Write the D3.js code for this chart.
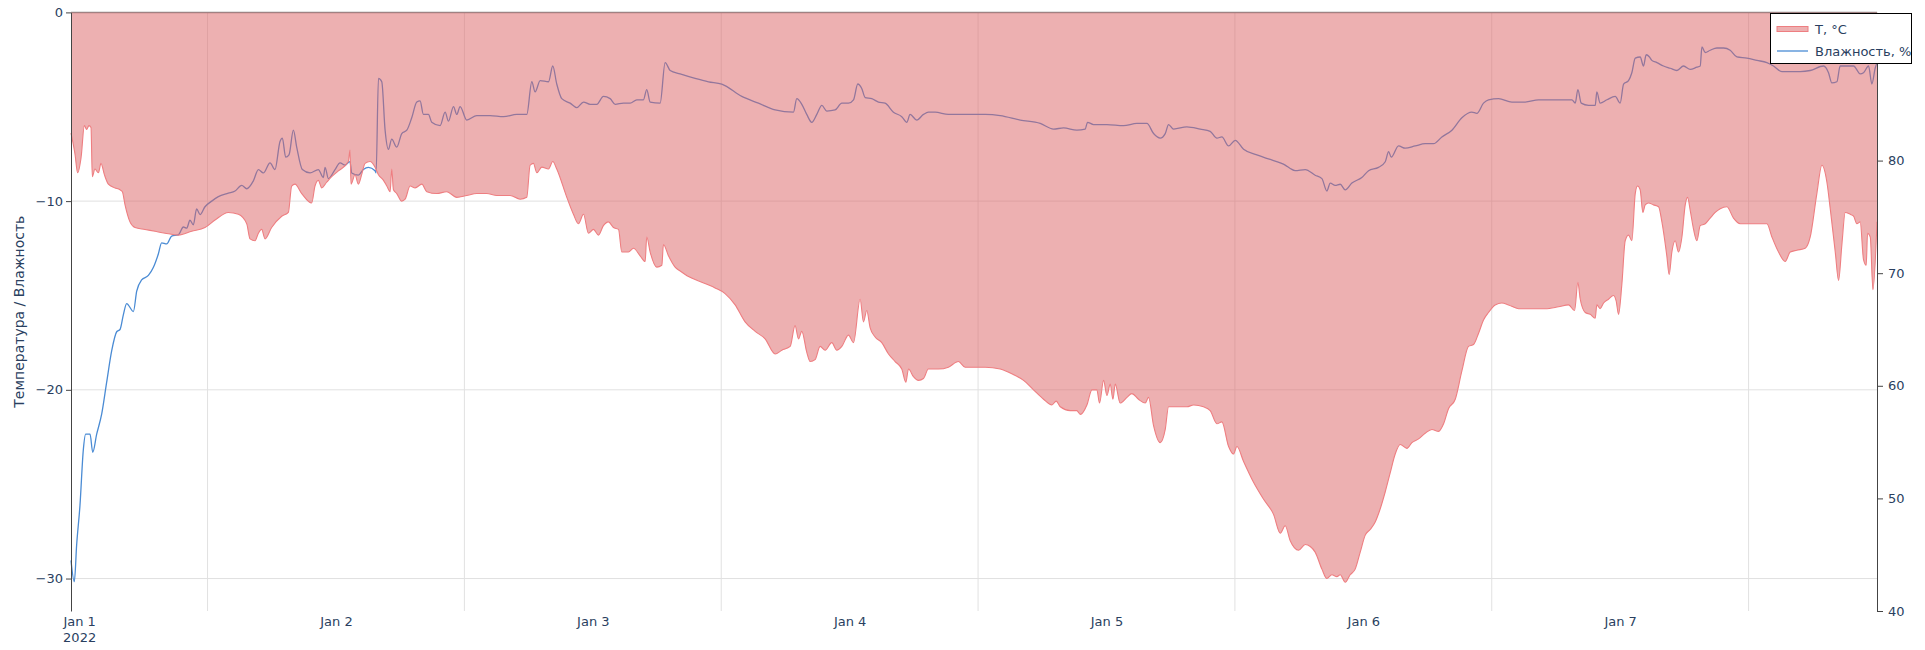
<!DOCTYPE html>
<html>
<head>
<meta charset="utf-8">
<script src="https://cdn.jsdelivr.net/npm/d3@7"></script>
<style>
  body { margin: 0; background: #fff; }
  svg text { font-family: "DejaVu Sans", Verdana, sans-serif; fill: #2a3f5f; }
</style>
</head>
<body>
<div id="chart"></div>
<script>
// hours since 2022-01-01 00:00 (UTC), value
const tempData = [
  [11.24,-6.4],[11.61,-7.5],[11.86,-8.5],[12.18,-7.7],[12.49,-6.0],[12.70,-6.2],[12.92,-6.0],[13.11,-6.1],[13.23,-8.7],[13.48,-8.3],
  [13.80,-8.5],[14.04,-8.0],[14.36,-8.6],[14.73,-9.1],[15.35,-9.3],[15.82,-9.4],[16.04,-9.5],[16.29,-10.2],[16.75,-11.1],[17.22,-11.4],
  [18.16,-11.5],[19.09,-11.6],[20.03,-11.7],[21.27,-11.8],[22.52,-11.6],[23.76,-11.4],[24.70,-11.0],[25.94,-10.6],[26.88,-10.7],[27.66,-11.2],
  [27.97,-12.0],[28.44,-12.1],[28.75,-11.7],[29.06,-11.5],[29.37,-12.0],[29.99,-11.4],[30.93,-10.8],[31.55,-10.6],[31.86,-9.2],[32.17,-9.1],
  [32.80,-9.6],[33.73,-10.1],[34.04,-9.2],[34.35,-8.9],[34.67,-9.3],[35.13,-9.0],[35.60,-8.7],[36.22,-8.4],[37.16,-7.9],[37.31,-7.3],
  [37.41,-9.1],[37.78,-8.6],[38.09,-9.1],[38.40,-8.6],[38.72,-8.0],[39.18,-7.9],[39.65,-8.2],
  [39.97,-8.6],[40.44,-8.9],[40.75,-9.2],[41.06,-9.5],[41.21,-8.3],[41.37,-9.4],[41.68,-9.6],[42.15,-10.0],[42.46,-9.9],[42.93,-9.2],
  [43.40,-9.3],[44.02,-9.1],[44.49,-9.5],[45.42,-9.6],[46.35,-9.5],[47.29,-9.8],[48.22,-9.7],[49.16,-9.6],[50.09,-9.6],[51.03,-9.7],
  [52.27,-9.7],[53.21,-9.9],[53.83,-9.8],[54.14,-8.1],[54.45,-8.0],[54.77,-8.5],[55.23,-8.2],[55.86,-8.3],[56.26,-7.9],[56.63,-8.3],
  [57.57,-9.8],[58.19,-10.7],[58.66,-11.2],[59.13,-10.7],[59.59,-11.7],[60.06,-11.5],[60.53,-11.8],[60.99,-11.3],[61.46,-11.1],[61.93,-11.4],
  [62.40,-11.5],[62.71,-12.7],[63.33,-12.7],[63.80,-12.5],[64.42,-12.9],[64.89,-13.2],[65.04,-11.9],[65.36,-12.7],[65.98,-13.5],[66.45,-13.4],
  [66.60,-12.3],[67.07,-12.9],[67.69,-13.5],[68.16,-13.7],
  [68.94,-14.0],[70.18,-14.3],[71.43,-14.6],[72.36,-14.9],[73.30,-15.5],[74.23,-16.4],[75.17,-16.9],[76.10,-17.3],[77.04,-18.1],[77.66,-17.9],
  [78.44,-17.7],[78.90,-16.6],[79.22,-17.3],[79.53,-16.9],[79.99,-18.0],[80.31,-18.5],[80.77,-18.4],[81.24,-17.7],[81.71,-17.9],[82.33,-17.5],
  [82.80,-17.9],[83.27,-17.7],[83.89,-17.1],[84.36,-17.5],[84.98,-15.2],[85.29,-16.4],[85.60,-15.8],[85.91,-16.7],[86.38,-17.2],[87.00,-17.5],
  [87.63,-18.1],[88.25,-18.5],[88.87,-18.9],[89.25,-19.6],[89.50,-18.9],[89.96,-19.3],[90.43,-19.5],[90.90,-19.4],[91.36,-18.9],[92.30,-18.9],
  [93.23,-18.8],[94.17,-18.5],[94.79,-18.8],[95.73,-18.8],[96.66,-18.8],
  [98.07,-18.9],[99.32,-19.2],[100.25,-19.5],[101.18,-20.0],[102.12,-20.5],[102.90,-20.8],[103.30,-20.6],[103.68,-20.9],[104.61,-21.1],[105.23,-21.1],
  [105.55,-21.3],[106.17,-20.8],[106.64,-20.0],[107.10,-20.0],[107.35,-20.7],[107.73,-19.5],[108.04,-20.3],[108.35,-19.7],[108.60,-20.5],[108.82,-19.7],
  [109.28,-20.7],[109.91,-20.4],[110.37,-20.2],[110.99,-20.5],[111.62,-20.7],[111.93,-20.4],[112.40,-21.9],[113.02,-22.8],[113.49,-22.1],[113.80,-20.9],
  [114.58,-20.9],[115.51,-20.9],[116.14,-20.8],[117.07,-20.9],[117.69,-21.1],[118.32,-21.8],[118.78,-21.7],[119.41,-23.0],[119.87,-23.4],[120.19,-23.0],
  [120.81,-23.8],[121.74,-24.9],[122.68,-25.8],[123.61,-26.6],[124.24,-27.6],[124.70,-27.2],[125.17,-28.0],
  [125.95,-28.5],[126.57,-28.2],[127.04,-28.3],[127.50,-28.6],[128.13,-29.5],[128.59,-30.0],[129.06,-29.8],[129.53,-29.9],[129.84,-29.8],[130.31,-30.2],
  [130.77,-29.8],[131.24,-29.5],[131.71,-28.6],[132.18,-27.7],[132.64,-27.4],[133.11,-27.0],[133.58,-26.3],[134.05,-25.4],[134.51,-24.4],[134.98,-23.4],
  [135.45,-22.9],[136.07,-23.1],[136.54,-22.8],[137.16,-22.6],[137.78,-22.3],[138.41,-22.1],[139.03,-22.2],[139.50,-21.8],[139.96,-21.0],[140.59,-20.5],
  [141.21,-19.0],[141.83,-17.7],[142.30,-17.6],[142.77,-17.0],[143.23,-16.3],[143.70,-15.9],[144.32,-15.5],[144.95,-15.4],[145.57,-15.5],[146.51,-15.7],
  [147.75,-15.7],[149.00,-15.7],[150.24,-15.6],[151.18,-15.5],[151.74,-15.8],[152.05,-14.3],[152.27,-15.2],[152.74,-15.9],[153.20,-16.0],[153.67,-16.2],
  [153.82,-15.5],[154.13,-15.7],[154.45,-15.4],[154.91,-15.2],[155.38,-15.0],[155.63,-15.3],[155.85,-16.0],[156.16,-14.4],[156.47,-12.1],[156.78,-11.8],
  [157.09,-12.1],[157.41,-9.6],[157.62,-9.2],[157.87,-9.4],[158.12,-10.6],[158.34,-10.2],[158.65,-10.1],[159.12,-10.2],[159.59,-10.3],[159.90,-11.1],
  [160.36,-12.9],[160.58,-13.9],[160.83,-12.7],[161.14,-12.1],[161.45,-12.7],[161.77,-11.9],[162.08,-10.2],[162.30,-9.8],[162.55,-10.5],[162.86,-11.5],
  [163.17,-12.1],[163.48,-11.3],[163.95,-11.2],[164.41,-10.9],[164.88,-10.6],[165.35,-10.4],[165.97,-10.3],[166.59,-10.9],[167.22,-11.2],[168.46,-11.2],
  [169.71,-11.2],[170.18,-11.9],[170.80,-12.7],[171.42,-13.2],[171.89,-12.7],[172.51,-12.6],[173.29,-12.5],[173.76,-11.9],[174.38,-9.6],[174.85,-8.1],
  [175.32,-9.0],[175.63,-10.4],[176.10,-12.7],[176.41,-14.2],[176.72,-12.3],[177.03,-10.6],[177.50,-10.7],[177.81,-10.8],[178.12,-11.2],[178.43,-11.1],
  [178.74,-13.1],[178.99,-13.4],[179.12,-11.7],[179.37,-11.9],[179.62,-14.7],[180.0,-11.1]
];

const humData = [
  [11.24,44.5],[11.55,42.6],[11.77,45.9],[12.08,49.4],[12.39,54.3],[12.61,55.7],[13.02,55.7],[13.27,54.1],[13.64,55.7],[14.11,57.5],
  [14.57,60.3],[15.04,63.1],[15.51,64.8],[15.82,65.0],[16.13,66.3],[16.44,67.3],[17.07,66.6],[17.38,68.4],[17.84,69.4],[18.47,69.8],
  [18.93,70.5],[19.40,71.7],[19.71,72.7],[20.18,72.6],[20.65,73.3],[21.27,73.4],[21.74,74.1],[22.05,74.0],[22.36,74.7],[22.67,74.3],
  [22.98,75.7],[23.30,75.2],[23.76,75.9],[24.39,76.4],[25.01,76.8],[25.94,77.1],[26.57,77.3],[27.19,77.8],[27.66,77.5],[28.28,78.2],
  [28.75,79.2],[29.21,78.9],[29.84,79.8],[30.30,79.2],[30.77,81.7],[30.99,82.0],[31.30,80.3],[31.61,80.5],[32.02,82.7],[32.33,81.2],
  [32.86,79.2],[33.58,78.9],[34.35,79.2],[34.82,78.5],[34.98,79.4],[35.29,78.4],[35.91,79.2],[36.38,79.8],[36.85,79.6],[37.31,79.9],
  [37.47,78.9],[38.09,78.7],[38.56,79.2],[39.03,79.4],[39.65,79.1],
  [39.75,78.9],[39.97,87.3],[40.28,87.0],[40.59,82.7],[40.90,81.0],[41.21,81.9],[41.68,81.2],[42.15,82.4],[42.62,82.7],[43.08,83.8],
  [43.55,85.2],[43.86,85.3],[44.17,84.1],[44.64,84.1],[44.95,83.4],[45.73,83.1],[46.20,84.3],[46.51,83.5],[46.98,84.8],[47.29,84.1],
  [47.60,84.8],[48.22,83.6],[49.16,84.0],[50.40,84.0],[51.65,83.9],[52.90,84.1],[53.83,84.1],[54.30,87.0],[54.61,86.1],[55.08,87.1],
  [55.86,87.0],[56.26,88.4],[56.63,86.8],[57.10,85.5],[57.88,85.1],[58.50,84.7],[59.13,85.2],[59.75,85.0],[60.37,85.0],[60.99,85.7],
  [61.62,85.5],[62.09,85.0],[62.86,85.1],[63.49,85.1],[64.11,85.4],[64.73,85.4],[65.04,86.3],[65.36,85.2],[66.29,85.1],[66.76,88.7],
  [67.23,88.0],[68.16,87.7],
  [69.56,87.3],[70.81,87.0],[72.05,86.8],[73.92,85.7],[75.48,85.1],[77.04,84.5],[78.75,84.3],[79.06,85.5],[79.53,85.0],[79.99,84.1],
  [80.46,83.4],[80.93,84.1],[81.40,84.9],[81.86,84.4],[82.64,84.5],[83.27,85.1],[83.89,85.1],[84.36,85.4],[84.76,86.8],[85.13,86.4],
  [85.45,85.6],[86.07,85.5],[86.69,85.2],[87.31,85.1],[88.09,84.3],[88.87,83.9],[89.34,83.4],[89.65,84.1],[90.27,83.6],[90.90,84.1],
  [91.36,84.3],[91.99,84.3],[93.23,84.1],[94.48,84.1],[95.73,84.1],[96.66,84.1],
  [98.07,84.0],[99.94,83.6],[101.81,83.3],[103.05,82.8],[103.99,82.9],[105.23,82.7],[106.01,82.8],[106.23,83.4],[106.79,83.2],[108.04,83.2],
  [109.59,83.1],[110.84,83.3],[111.78,83.3],[112.40,82.4],[113.02,82.0],[113.49,82.4],[113.80,83.2],[114.27,82.8],[115.51,83.0],[116.76,82.8],
  [117.69,82.6],[118.32,82.0],[118.78,82.1],[119.41,81.3],[120.03,81.8],[120.81,81.0],[122.05,80.5],[123.30,80.1],[124.24,79.8],[124.70,79.6],
  [125.17,79.3],
  [125.63,79.1],[126.57,79.2],[127.50,78.7],[128.13,78.4],[128.59,77.3],[128.91,78.0],[129.37,77.8],[129.84,77.9],[130.31,77.4],[130.93,78.0],
  [131.86,78.5],[132.49,79.1],[133.42,79.4],[134.05,79.9],[134.36,80.8],[134.61,80.3],[135.29,81.3],[135.91,81.1],[136.85,81.3],[137.78,81.5],
  [138.56,81.5],[139.34,82.1],[140.28,82.7],[141.21,83.8],[142.14,84.3],[142.61,84.2],[143.23,85.1],[143.70,85.4],[144.64,85.5],[145.88,85.2],
  [147.13,85.2],[148.37,85.4],[149.62,85.4],[151.49,85.4],[151.80,85.1],[152.05,86.3],[152.36,85.1],[153.05,84.9],[153.67,84.9],
  [153.82,86.1],[154.13,85.1],[154.76,85.4],[155.54,85.7],[156.00,85.1],[156.32,86.8],[156.78,87.1],[157.09,87.8],[157.41,89.1],[157.87,89.2],
  [158.18,88.4],[158.43,89.4],[158.74,89.2],[158.96,88.9],[159.43,88.7],[160.05,88.4],[160.68,88.2],[161.30,88.0],[161.92,88.4],[162.55,88.1],
  [163.17,88.3],[163.48,88.4],[163.64,90.1],[163.95,89.6],[164.41,89.8],[165.04,90.0],[165.66,90.0],[166.28,89.8],[166.91,89.2],[167.84,89.1],
  [168.78,88.9],[169.71,88.7],[170.33,88.4],[171.11,87.9],[171.89,87.9],[172.82,87.9],[173.76,88.0],[175.01,88.4],[175.47,87.8],[175.78,86.9],
  [176.25,87.0],[176.56,88.4],[177.81,88.4],[178.43,87.7],[178.74,87.8],[179.21,88.4],[179.52,86.8],[179.83,88.2],[180.0,88.7]
];

const tempTicks = [0, -10, -20, -30];
const humTicks = [40, 50, 60, 70, 80];
const seriesNames = ["T, °C", "Влажность, %"];
const axisTitle = "Температура / Влажность";

const t0 = Date.UTC(2022, 0, 1);
const toDate = h => new Date(t0 + h * 3600e3);

drawChart();

function drawChart(){
    const W = 1925, H = 650;
    const margin = {top: 12.4, right: 48, bottom: 39, left: 71},
    width = W - margin.left - margin.right,
    height = H - margin.top - margin.bottom;

    const svg = d3.select("#chart")
        .append("svg")
        .attr("width", W)
        .attr("height", H);

    const g = svg.append("g")
        .attr("transform", `translate(${margin.left},${margin.top})`);

    // scales
    const xStart = toDate(tempData[0][0]), xEnd = toDate(tempData[tempData.length - 1][0]);
    const xScale = d3.scaleUtc().domain([xStart, xEnd]).range([0, width]);
    const yT = d3.scaleLinear().domain([-31.72, 0]).range([height, 0]);
    const yH = d3.scaleLinear().domain([40, 93.16]).range([height, 0]);

    // grid
    g.append("g").selectAll("line")
        .data(d3.utcDay.range(xStart, xEnd))
        .join("line")
        .attr("x1", d => xScale(d)).attr("x2", d => xScale(d))
        .attr("y1", 0).attr("y2", height)
        .attr("stroke", "#e1e1e1");

    g.append("g").selectAll("line")
        .data(tempTicks.filter(d => d !== 0))
        .join("line")
        .attr("x1", 0).attr("x2", width)
        .attr("y1", d => yT(d)).attr("y2", d => yT(d))
        .attr("stroke", "#e1e1e1");

    // zero line at the top
    g.append("line")
        .attr("x1", 0).attr("x2", width)
        .attr("y1", yT(0)).attr("y2", yT(0))
        .attr("stroke", "#8d8d8d")
        .attr("stroke-width", 1.5);

    // humidity (under the temperature fill)
    g.append("path")
        .datum(humData)
        .attr("fill", "none")
        .attr("stroke", "#4a8bd4")
        .attr("stroke-width", 1.3)
        .attr("d", d3.line()
            .x(d => xScale(toDate(d[0])))
            .y(d => yH(d[1]))
            .curve(d3.curveMonotoneX));

    // temperature area
    g.append("path")
        .datum(tempData)
        .attr("fill", "rgba(220,98,100,0.5)")
        .attr("d", d3.area()
            .x(d => xScale(toDate(d[0])))
            .y0(yT(0))
            .y1(d => yT(d[1]))
            .curve(d3.curveMonotoneX));

    g.append("path")
        .datum(tempData)
        .attr("fill", "none")
        .attr("stroke", "#ee7e81")
        .attr("stroke-width", 1.1)
        .attr("d", d3.line()
            .x(d => xScale(toDate(d[0])))
            .y(d => yT(d[1]))
            .curve(d3.curveMonotoneX));

    // axes
    const yAxisGroup = g.append("g")
        .call(d3.axisLeft(yT).tickValues(tempTicks).tickSize(5).tickSizeOuter(0).tickPadding(3));
    const y2AxisGroup = g.append("g")
        .attr("transform", `translate(${width},0)`)
        .call(d3.axisRight(yH).tickValues(humTicks).tickSize(6).tickSizeOuter(0).tickPadding(5));

    const noons = d3.utcDay.range(toDate(0), xEnd)
        .map(d => d3.utcHour.offset(d, 12))
        .filter(d => d > xStart && d < xEnd);
    const xAxisGroup = g.append("g")
        .attr("transform", `translate(0,${height})`)
        .call(d3.axisBottom(xScale).tickValues(noons).tickSize(0).tickPadding(6)
            .tickFormat(d3.utcFormat("%b %-d")));
    xAxisGroup.select(".domain").remove();
    xAxisGroup.select(".tick text")
        .append("tspan").attr("x", 0).attr("dy", "1.25em").text("2022");

    [yAxisGroup, y2AxisGroup, xAxisGroup].forEach(a => {
        a.attr("font-size", 13).attr("font-family", null).attr("color", "#444");
        a.selectAll("text").attr("fill", "#2a3f5f");
    });

    // axis title
    svg.append("text")
        .attr("transform", `translate(19,${margin.top + height / 2}) rotate(-90)`)
        .attr("text-anchor", "middle")
        .attr("dominant-baseline", "central")
        .attr("font-size", 14)
        .text(axisTitle);

    // legend
    const lg = svg.append("g").attr("transform", "translate(1770.5,13.5)");
    lg.append("rect")
        .attr("width", 141).attr("height", 50)
        .attr("fill", "#fff").attr("stroke", "#000").attr("stroke-width", 1);
    lg.append("rect")
        .attr("x", 6.5).attr("y", 13).attr("width", 31).attr("height", 5)
        .attr("fill", "rgba(220,98,100,0.5)").attr("stroke", "#ee7e81").attr("stroke-width", 1);
    lg.append("line")
        .attr("x1", 6.5).attr("x2", 37.5).attr("y1", 37.5).attr("y2", 37.5)
        .attr("stroke", "#4a8bd4").attr("stroke-width", 1.3);
    lg.selectAll(".label")
        .data(seriesNames)
        .join("text")
        .attr("class", "label")
        .attr("x", 44.5)
        .attr("y", (d, i) => 15.5 + i * 22)
        .attr("dominant-baseline", "central")
        .attr("font-size", 13)
        .text(d => d);
}
</script>
</body>
</html>
